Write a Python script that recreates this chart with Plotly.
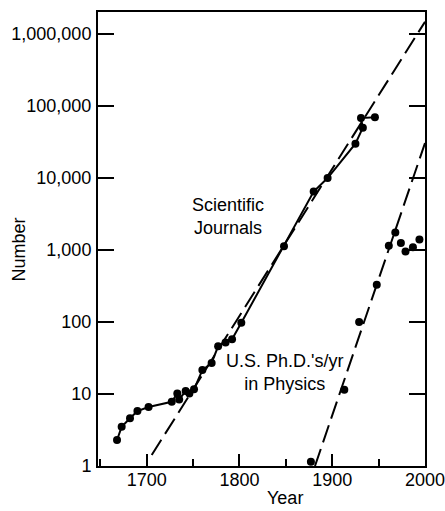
import plotly.graph_objects as go

# Scientific journals (year, number)
journal_years = [1668, 1673, 1682, 1690, 1702, 1727, 1733, 1735, 1742, 1746, 1751,
                 1760, 1770, 1777, 1785, 1792, 1802, 1848, 1880, 1895, 1925, 1933,
                 1931, 1946]
journal_values = [2.3, 3.5, 4.6, 5.8, 6.6, 7.8, 10.2, 8.4, 11, 10.2, 11.6,
                  21.5, 27, 46, 52, 57.5, 98, 1130, 6500, 10000, 30000, 50000,
                  68000, 70000]

# U.S. Ph.D.'s per year in physics
phd_years = [1877, 1913, 1929, 1948, 1961, 1968, 1974, 1979, 1987, 1994]
phd_values = [1.15, 11.5, 100, 330, 1150, 1750, 1250, 950, 1090, 1400]

# Exponential trend lines (endpoints)
journal_fit_years = [1705.4, 2000]
journal_fit_values = [1.42, 1.48e6]
phd_fit_years = [1881.4, 2000]
phd_fit_values = [1.0, 30600]

y_tickvals = [1, 10, 100, 1000, 10000, 100000, 1000000]
y_ticktext = ["1", "10", "100", "1,000", "10,000", "100,000", "1,000,000"]
x_tickvals = [1700, 1800, 1900, 2000]

FONT = "Liberation Sans, Arial, Helvetica, sans-serif"

fig = go.Figure()
fig.add_trace(go.Scatter(x=journal_fit_years, y=journal_fit_values, mode="lines",
                         line=dict(color="black", width=2, dash="18px,7px"),
                         hoverinfo="skip", showlegend=False))
fig.add_trace(go.Scatter(x=phd_fit_years, y=phd_fit_values, mode="lines",
                         line=dict(color="black", width=2, dash="18px,7px"),
                         hoverinfo="skip", showlegend=False))
fig.add_trace(go.Scatter(x=journal_years, y=journal_values, mode="lines+markers",
                         line=dict(color="black", width=2),
                         marker=dict(color="black", size=8),
                         name="Scientific Journals", showlegend=False))
fig.add_trace(go.Scatter(x=phd_years, y=phd_values, mode="markers",
                         marker=dict(color="black", size=8),
                         name="U.S. Ph.D.'s/yr in Physics", showlegend=False))

fig.add_annotation(x=1788, y=3.46, xref="x", yref="y",
                   text="Scientific<br>Journals", showarrow=False,
                   font=dict(family=FONT, size=18, color="black"))
fig.add_annotation(x=1848, y=1.30, xref="x", yref="y",
                   text="U.S. Ph.D.'s/yr<br>in Physics", showarrow=False,
                   font=dict(family=FONT, size=18, color="black"))
fig.add_annotation(x=0.572, y=-0.0705, xref="paper", yref="paper",
                   text="Year", showarrow=False, yanchor="middle",
                   font=dict(family=FONT, size=18, color="black"))
fig.add_annotation(x=-0.243, y=0.476, xref="paper", yref="paper",
                   text="Number", showarrow=False, textangle=-90,
                   xanchor="center", yanchor="middle",
                   font=dict(family=FONT, size=18, color="black"))

fig.update_layout(
    width=445, height=511,
    margin=dict(l=98, r=20, t=12, b=45, autoexpand=False),
    paper_bgcolor="white", plot_bgcolor="white",
    font=dict(family=FONT, size=18, color="black"),
    hovermode=False,
    xaxis=dict(range=[1647.5, 2000], tickvals=x_tickvals, automargin=False,
               ticks="inside", ticklen=12, tickwidth=2, tickcolor="black",
               minor=dict(dtick=50, tick0=1650, ticks="inside", ticklen=7,
                          tickwidth=1.5, tickcolor="black"),
               showline=True, linecolor="black", linewidth=2, mirror=True,
               showgrid=False, zeroline=False, ticklabelstandoff=-4,
               ticklabeloverflow="allow"),
    yaxis=dict(type="log", range=[0, 6.306], tickvals=y_tickvals, ticktext=y_ticktext,
               automargin=False,
               ticks="inside", ticklen=16, tickwidth=2, tickcolor="black",
               showline=True, linecolor="black", linewidth=2, mirror="ticks",
               showgrid=False, zeroline=False, ticklabelstandoff=1),
)

# remove the default page margin so the 445x511 figure fills the window exactly
fig.write_html(
    "out.html",
    config={"displayModeBar": False},
    post_script="document.body.style.margin='0';"
                "document.documentElement.style.overflow='hidden';",
)
